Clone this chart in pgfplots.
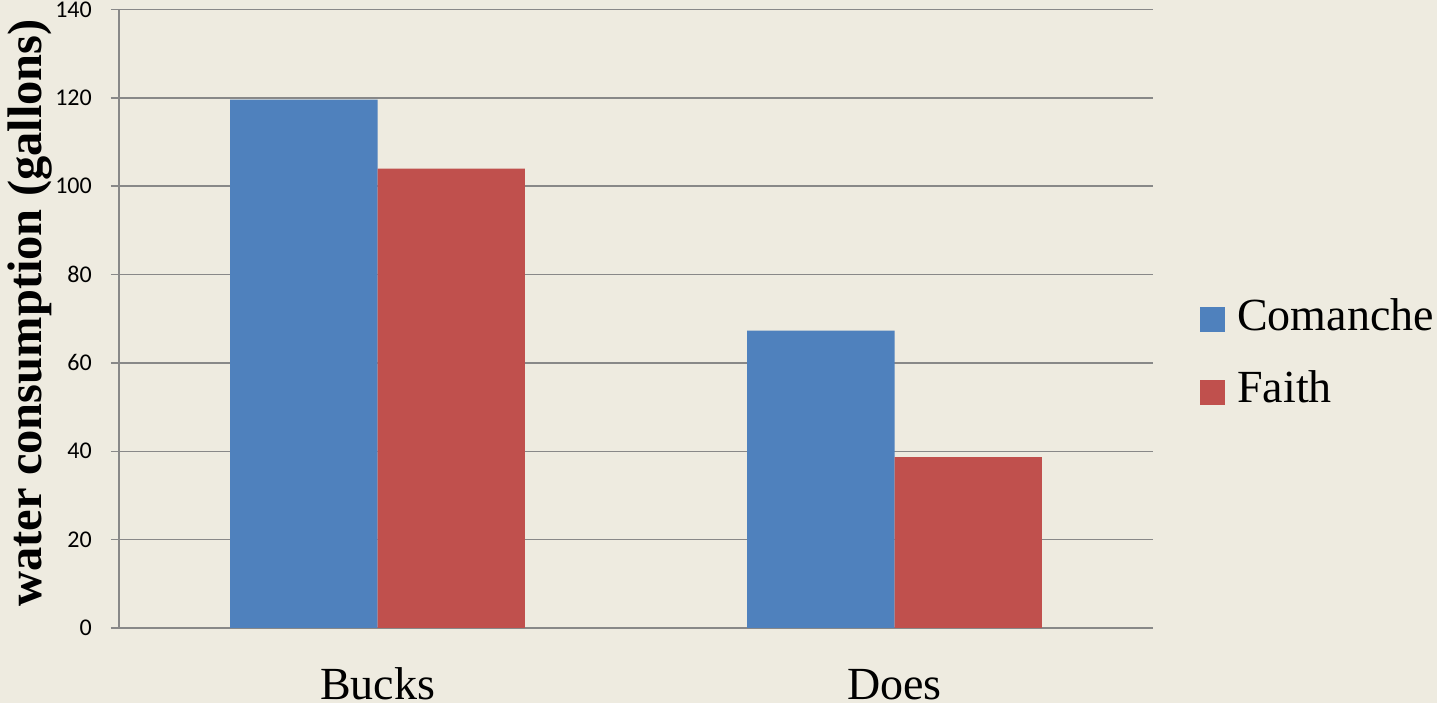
\documentclass[border=0pt]{standalone}
\usepackage{fontspec}
\setmainfont{Liberation Serif}
\newfontfamily\tickfont{Carlito}
\usepackage{pgfplots}
\pgfplotsset{compat=1.18}

\definecolor{bgbeige}{HTML}{EEEBE0}
\definecolor{gridgray}{HTML}{888888}
\definecolor{comanche}{HTML}{4F81BD}
\definecolor{faith}{HTML}{C0504D}

\begin{document}
\begin{tikzpicture}
\path[use as bounding box, fill=bgbeige] (0,0) rectangle (1437bp,703bp);
\begin{axis}[
  at={(119bp,75bp)}, anchor=south west,
  scale only axis,
  width=1034bp, height=618.5bp,
  ymin=0, ymax=140,
  ytick={0,20,...,140},
  xmin=-0.5, xmax=1.5,
  xtick={0,1},
  xticklabels={Bucks,Does},
  axis lines*=left,
  axis line style={gridgray, line width=1.5bp},
  ymajorgrids,
  grid style={gridgray, line width=1.5bp},
  tick align=outside,
  major tick length=8bp,
  ytick style={gridgray, line width=1.5bp},
  xtick style={draw=none},
  /pgf/number format/assume math mode=true,
  yticklabel style={font=\tickfont\fontsize{24bp}{24bp}\selectfont, anchor=east, inner sep=0pt, xshift=-19bp},
  xticklabel style={font=\fontsize{46bp}{46bp}\selectfont, anchor=base, yshift=-63bp},
  ylabel={\textbf{water consumption (gallons)}},
  ylabel style={font=\fontsize{48.5bp}{48.5bp}\selectfont, xshift=6bp},
  ybar=0pt,
  bar width=0.285,
  legend style={at={(1081bp,276.5bp)}, anchor=west, draw=none, fill=none,
    font=\fontsize{46bp}{46bp}\selectfont, row sep=38bp,
    cells={anchor=west}, inner sep=0pt, nodes={inner sep=0pt}},
  legend image code/.code={\fill[#1,draw=none] (0bp,-17.5bp) rectangle (25bp,7.5bp); \path (37bp,0bp);},
]
\addplot[fill=comanche, draw=none] coordinates {(0,119.6) (1,67.3)};
\addplot[fill=faith, draw=none] coordinates {(0,104.0) (1,38.7)};
\legend{Comanche,Faith}
\end{axis}
\end{tikzpicture}
\end{document}
